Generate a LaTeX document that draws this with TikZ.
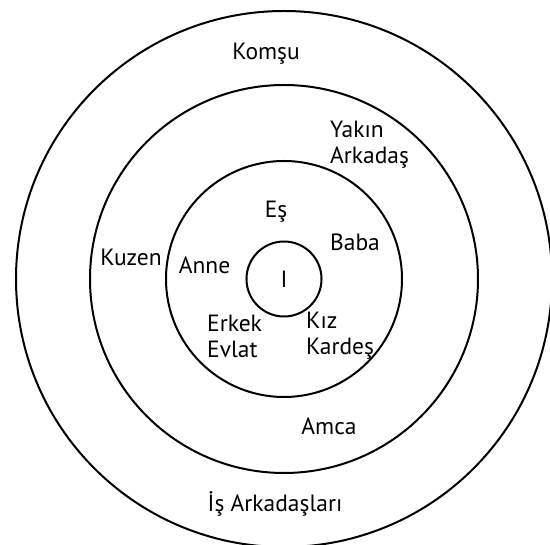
\documentclass[tikz,border=0pt]{standalone}
\usepackage{fontspec}
\setmainfont{PT Sans}
\usetikzlibrary{positioning}

\tikzset{
  ring/.style={draw, line width=2pt},
  lbl/.style={font=\fontsize{23.5}{26}\selectfont, inner sep=0pt},
}

\begin{document}
\begin{tikzpicture}[x=1pt, y=-1pt]
      \useasboundingbox (0,0) rectangle (550,545);
      % Halkalar
      \coordinate (o) at (284,279);
      \draw[ring] (o) circle (268);
      \draw[ring] (o) circle (194);
      \draw[ring] (o) circle (118);
      \draw[ring] (o) circle (37.5);

      % Merkez
      \node[lbl] (ben) at (o) {I};

      % En ic halka
      \node[lbl] (es) at (276,212) {Eş};
      \node[lbl] (baba) at (355,242) {Baba};
      \node[lbl] (anne) at (204.5,265) {Anne};
      \node[lbl, align=left, anchor=west] (erkek) at (207,336) {Erkek\\Evlat};
      \node[lbl, align=left, anchor=west] (kiz) at (306,336) {Kız\\Kardeş};

      % Orta halka
      \node[lbl, align=left, anchor=west] (yakin) at (330,145) {Yakın\\Arkadaş};
      \node[lbl] (kuzen) at (131,257) {Kuzen};
      \node[lbl] (amca) at (329,426) {Amca};

      % Dis halka
      \node[lbl] (komsu) at (266,54) {Komşu};
      \node[lbl] (is) at (275,503.5) {İş Arkadaşları};
    \end{tikzpicture}
\end{document}
